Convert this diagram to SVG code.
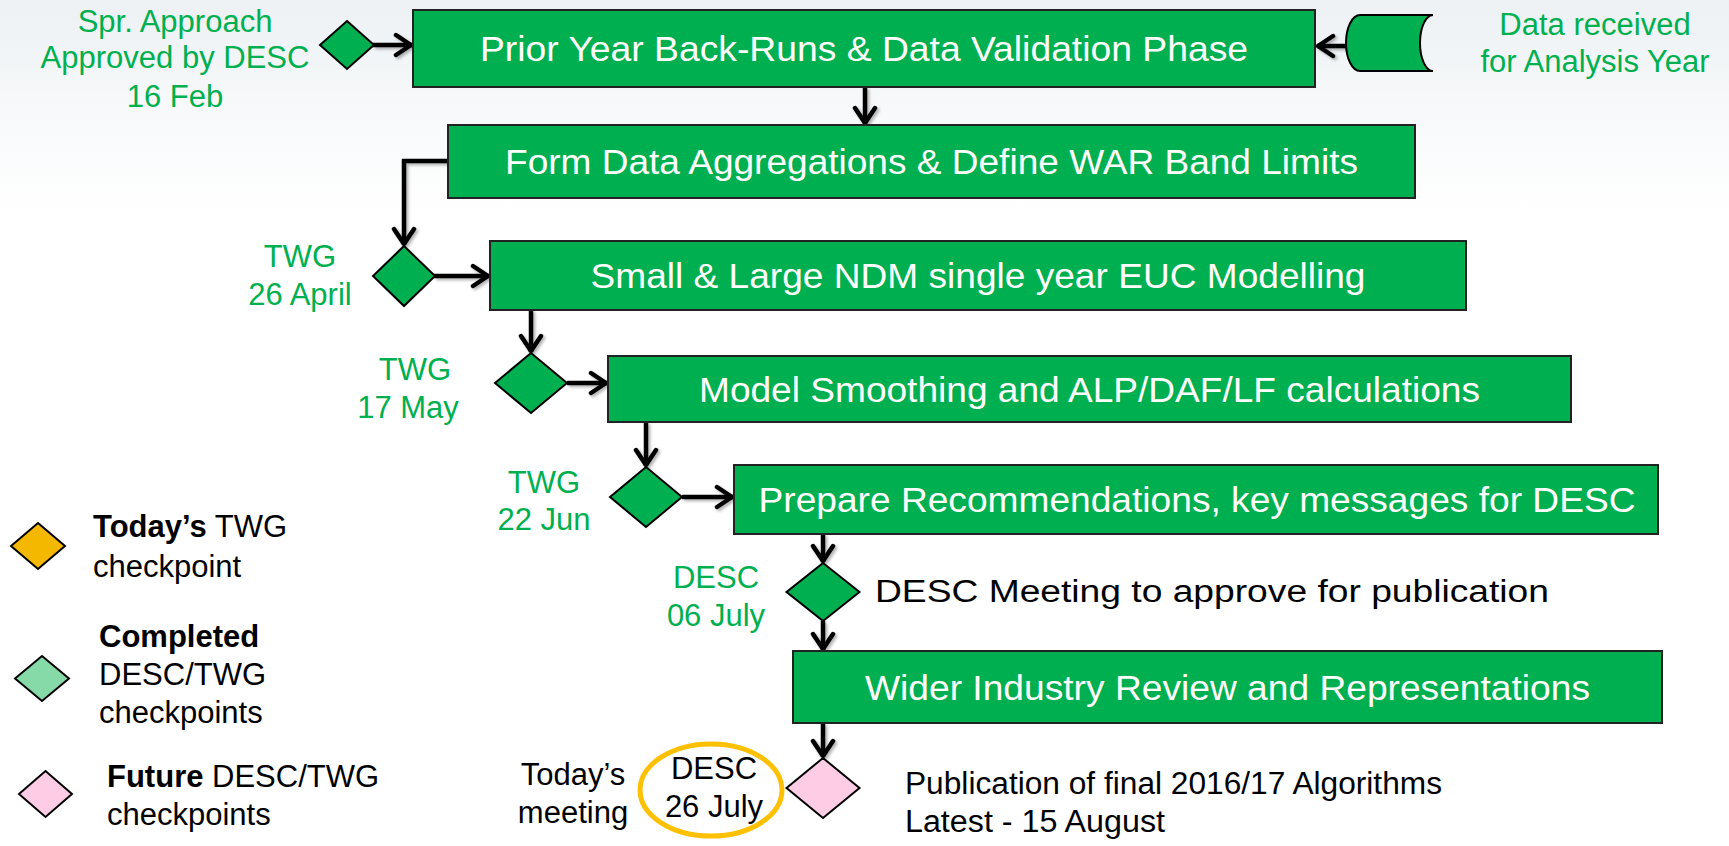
<svg xmlns="http://www.w3.org/2000/svg" width="1729" height="846" viewBox="0 0 1729 846">
<defs>
<linearGradient id="bg" x1="0" y1="0" x2="0" y2="1">
<stop offset="0" stop-color="#edf1f4"/>
<stop offset="0.13" stop-color="#f7f9fa"/>
<stop offset="0.25" stop-color="#ffffff"/>
<stop offset="1" stop-color="#ffffff"/>
</linearGradient>
<marker id="arr" viewBox="0 0 22 26" refX="20" refY="13" markerWidth="22" markerHeight="26" markerUnits="userSpaceOnUse" orient="auto">
<path d="M4,3 L19,13 L4,23" fill="none" stroke="#000" stroke-width="4.5" stroke-linecap="round" stroke-linejoin="round"/>
</marker>
<filter id="sh" x="-20%" y="-20%" width="140%" height="140%">
<feDropShadow dx="2" dy="2" stdDeviation="1.5" flood-color="#000" flood-opacity="0.3"/>
</filter>
</defs>
<style>
.box{fill:#00B050;stroke:#222;stroke-width:2}
.dia{fill:#00B050;stroke:#000;stroke-width:2}
.bt{font-family:"Liberation Sans",Arial,sans-serif;font-size:35px;fill:#fff;text-anchor:middle}
.gl{font-family:"Liberation Sans",Arial,sans-serif;font-size:31px;fill:#00B050;text-anchor:middle}
.bl{font-family:"Liberation Sans",Arial,sans-serif;font-size:31px;fill:#000}
.con{fill:none;stroke:#000;stroke-width:4.5;marker-end:url(#arr)}
</style>
<rect x="0" y="0" width="1729" height="846" fill="url(#bg)"/>

<g id="connectors" filter="url(#sh)">
<path class="con" d="M373,45 H412"/>
<path class="con" d="M1347,46 H1317"/>
<path class="con" d="M865,87 V124"/>
<path class="con" d="M448,161 H404 V245"/>
<path class="con" d="M434,276 H489"/>
<path class="con" d="M531,310 V352"/>
<path class="con" d="M567,383 H607"/>
<path class="con" d="M646,422 V466"/>
<path class="con" d="M682,497 H733"/>
<path class="con" d="M823,534 V562"/>
<path class="con" d="M823,621 V650"/>
<path class="con" d="M823,723 V757"/>
</g>

<g id="spr-approach">
<polygon class="dia" points="347,21 374,45 347,69 320,45"/>
<text class="gl" x="175" y="32">Spr. Approach</text>
<text class="gl" x="175" y="68">Approved by DESC</text>
<text class="gl" x="175" y="107">16 Feb</text>
</g>

<g id="data-received">
<path d="M1360,15 L1433,15 A13,28 0 0 0 1433,71 L1360,71 A14,28 0 0 1 1360,15 Z" fill="#00B050" stroke="#000" stroke-width="2"/>
<text class="gl" x="1595" y="35">Data received</text>
<text class="gl" x="1595" y="72">for Analysis Year</text>
</g>

<g id="prior-year">
<rect class="box" x="413" y="10" width="902" height="77"/>
<text class="bt" x="864" y="61" textLength="768" lengthAdjust="spacingAndGlyphs">Prior Year Back-Runs &amp; Data Validation Phase</text>
</g>

<g id="form-data">
<rect class="box" x="448" y="125" width="967" height="73"/>
<text class="bt" x="931.5" y="174" textLength="853" lengthAdjust="spacingAndGlyphs">Form Data Aggregations &amp; Define WAR Band Limits</text>
</g>

<g id="twg-26-april">
<polygon class="dia" points="404,246 435,276 404,306 373,276"/>
<text class="gl" x="300" y="267">TWG</text>
<text class="gl" x="300" y="305">26 April</text>
</g>

<g id="small-large">
<rect class="box" x="490" y="241" width="976" height="69"/>
<text class="bt" x="978" y="288" textLength="775" lengthAdjust="spacingAndGlyphs">Small &amp; Large NDM single year EUC Modelling</text>
</g>

<g id="twg-17-may">
<polygon class="dia" points="531,353 567,383 531,413 495,383"/>
<text class="gl" x="415" y="380">TWG</text>
<text class="gl" x="408" y="418">17 May</text>
</g>

<g id="model-smoothing">
<rect class="box" x="608" y="356" width="963" height="66"/>
<text class="bt" x="1089.5" y="401.5" textLength="781" lengthAdjust="spacingAndGlyphs">Model Smoothing and ALP/DAF/LF calculations</text>
</g>

<g id="twg-22-jun">
<polygon class="dia" points="646,467 682,497 646,527 610,497"/>
<text class="gl" x="544" y="493">TWG</text>
<text class="gl" x="544" y="530">22 Jun</text>
</g>

<g id="prepare-recs">
<rect class="box" x="734" y="465" width="924" height="69"/>
<text class="bt" x="1197" y="512" textLength="877" lengthAdjust="spacingAndGlyphs">Prepare Recommendations, key messages for DESC</text>
</g>

<g id="desc-06-july">
<polygon class="dia" points="823,563 859.5,592 823,621 786.5,592"/>
<text class="gl" x="716" y="588">DESC</text>
<text class="gl" x="716" y="626">06 July</text>
<text class="bl" x="875" y="602" font-size="35" textLength="674" lengthAdjust="spacingAndGlyphs">DESC Meeting to approve for publication</text>
</g>

<g id="wider-industry">
<rect class="box" x="793" y="651" width="869" height="72"/>
<text class="bt" x="1227.5" y="699.5" textLength="725" lengthAdjust="spacingAndGlyphs">Wider Industry Review and Representations</text>
</g>

<g id="desc-26-july">
<polygon points="823,758 859.5,788 823,818 786.5,788" fill="#FFCCE6" stroke="#000" stroke-width="2"/>
<ellipse cx="711" cy="790" rx="71" ry="46" fill="none" stroke="#FFC000" stroke-width="5"/>
<text class="bl" x="714" y="779" text-anchor="middle">DESC</text>
<text class="bl" x="714" y="817" text-anchor="middle">26 July</text>
<text class="bl" x="573" y="785" text-anchor="middle">Today’s</text>
<text class="bl" x="573" y="823" text-anchor="middle">meeting</text>
<text class="bl" x="905" y="794" font-size="27" textLength="537" lengthAdjust="spacingAndGlyphs">Publication of final 2016/17 Algorithms</text>
<text class="bl" x="905" y="832" font-size="27" textLength="260" lengthAdjust="spacingAndGlyphs">Latest - 15 August</text>
</g>

<g id="legend-today">
<polygon points="38,523 65,546 38,569 11,546" fill="#F5B800" stroke="#000" stroke-width="2"/>
<text class="bl" x="93" y="537"><tspan font-weight="bold">Today’s</tspan> TWG</text>
<text class="bl" x="93" y="577">checkpoint</text>
</g>

<g id="legend-completed">
<polygon points="42,656 69,678.5 42,701 15,678.5" fill="#85DAA8" stroke="#000" stroke-width="2"/>
<text class="bl" x="99" y="647" font-weight="bold">Completed</text>
<text class="bl" x="99" y="685">DESC/TWG</text>
<text class="bl" x="99" y="723">checkpoints</text>
</g>

<g id="legend-future">
<polygon points="45.5,771 72,794 45.5,817 19,794" fill="#FFCCE6" stroke="#000" stroke-width="2"/>
<text class="bl" x="107" y="787"><tspan font-weight="bold">Future</tspan> DESC/TWG</text>
<text class="bl" x="107" y="825">checkpoints</text>
</g>
</svg>
